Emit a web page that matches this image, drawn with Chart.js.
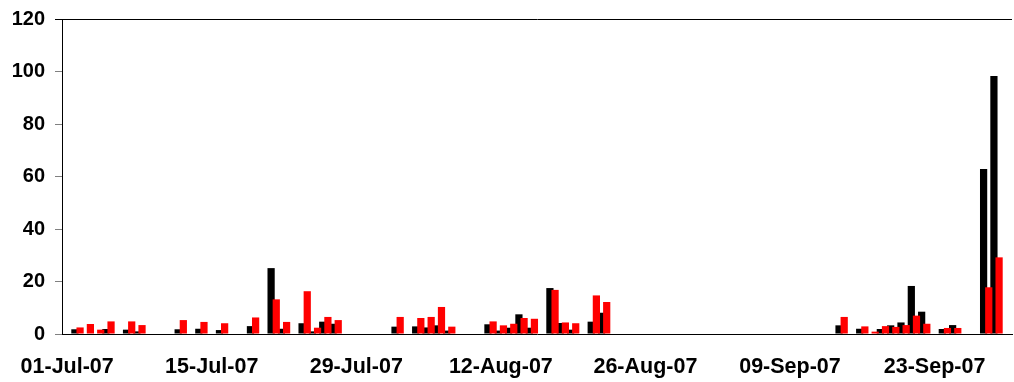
<!DOCTYPE html>
<html>
<head>
<meta charset="utf-8">
<script src="https://cdn.jsdelivr.net/npm/chart.js@4/dist/chart.umd.min.js"></script>
<style>
  html, body { margin: 0; padding: 0; background: #fff; }
  #wrap { width: 1014px; height: 382px; }
</style>
</head>
<body>
<div id="wrap"><canvas id="dailyChart"></canvas></div>
<script>
// one category per day, 01-Jul-07 .. 30-Sep-07
const START = Date.UTC(2007, 6, 1);
const DAY_COUNT = 92;
const MONTHS = ['Jan', 'Feb', 'Mar', 'Apr', 'May', 'Jun', 'Jul', 'Aug', 'Sep', 'Oct', 'Nov', 'Dec'];
const LABEL_EVERY = 14;

const days = [];
for (let i = 0; i < DAY_COUNT; i++) {
  const d = new Date(START + i * 86400000);
  const dd = String(d.getUTCDate()).padStart(2, '0');
  const yy = String(d.getUTCFullYear()).slice(2);
  days.push(`${dd}-${MONTHS[d.getUTCMonth()]}-${yy}`);
}

// rows of two weeks each
const blackSeries = [
  0, 1.8, 0, 0, 1.9, 0, 1.65, 1.0, 0, 0, 0, 1.8, 0, 2.0,
  0, 1.5, 0, 0, 3.0, 0, 25.1, 2.0, 0, 4.1, 1.0, 4.7, 3.9, 0,
  0, 0, 0, 0, 2.8, 0, 2.9, 2.5, 3.3, 1.3, 0, 0, 0, 3.7,
  1.3, 2.4, 7.5, 2.4, 0, 17.5, 4.2, 1.65, 0, 4.7, 8.1, 0, 0, 0,
  0, 0, 0, 0, 0, 0, 0, 0, 0, 0, 0, 0, 0, 0,
  0, 0, 0, 0, 0, 3.3, 0, 2.0, 0, 1.9, 3.3, 4.4, 18.3, 8.5,
  0, 1.9, 3.4, 0, 0, 62.9, 98.3, 0
];

const redSeries = [
  0, 2.5, 3.8, 1.65, 4.8, 0, 4.8, 3.4, 0, 0, 0, 5.3, 0, 4.6,
  0, 4.1, 0, 0, 6.3, 0, 13.2, 4.6, 0, 16.3, 2.4, 6.5, 5.3, 0,
  0, 0, 0, 0, 6.5, 0, 6.1, 6.5, 10.3, 2.8, 0, 0, 0, 4.8,
  3.3, 3.9, 6.1, 5.8, 0, 16.8, 4.4, 4.1, 0, 14.7, 12.2, 0, 0, 0,
  0, 0, 0, 0, 0, 0, 0, 0, 0, 0, 0, 0, 0, 0,
  0, 0, 0, 0, 0, 6.5, 0, 2.9, 0.9, 3.0, 2.7, 3.4, 7.0, 3.9,
  0, 2.3, 2.3, 0, 0, 17.8, 29.2, 0
];

const yTicks = [0, 20, 40, 60, 80, 100, 120];

const FONT = { family: '"Liberation Sans", Arial, sans-serif', weight: 'bold', size: 20 };

// the bars overlap a little; paint datasets first-to-last so red sits over black
const redOnTop = {
  id: 'redOnTop',
  beforeDatasetsDraw(chart) {
    chart.getSortedVisibleDatasetMetas().forEach(meta => meta.controller.draw());
    return false;
  }
};

const ctx = document.getElementById('dailyChart').getContext('2d');
new Chart(ctx, {
  type: 'bar',
  data: {
    labels: days,
    datasets: [
      { data: blackSeries, backgroundColor: '#000000' },
      { data: redSeries, backgroundColor: '#FF0000' }
    ]
  },
  options: {
    responsive: true,
    maintainAspectRatio: false,
    animation: false,
    categoryPercentage: 1,
    barPercentage: 1.4,
    layout: { padding: { top: 19, right: 2, left: 0, bottom: 0 } },
    plugins: {
      legend: { display: false },
      tooltip: { enabled: false }
    },
    scales: {
      x: {
        offset: true,
        border: { color: '#000000', width: 1 },
        grid: {
          offset: true,
          drawOnChartArea: false,
          tickLength: 6,
          tickColor: c => (c.index % LABEL_EVERY === 0 ? '#808080' : 'rgba(0,0,0,0)')
        },
        ticks: {
          autoSkip: false,
          maxRotation: 0,
          padding: 14,
          color: '#000000',
          font: { ...FONT, size: 21.5 },
          callback: (v, i) => (i % LABEL_EVERY === 0 ? days[i] : null)
        },
        afterFit: s => { s.height = 48; }
      },
      y: {
        min: 0,
        max: 120,
        border: { color: '#000000', width: 1 },
        grid: {
          color: c => (c.tick && c.tick.value === 120 ? '#000000' : 'rgba(0,0,0,0)'),
          tickColor: c => (c.tick && c.tick.value === 120 ? '#000000' : '#808080'),
          tickLength: 7
        },
        afterBuildTicks: s => { s.ticks = yTicks.map(v => ({ value: v })); },
        ticks: {
          padding: 10,
          color: '#000000',
          font: FONT
        },
        afterFit: s => {
          s.width = 62;
          s.paddingTop = 0;
          s.paddingBottom = 0;
        }
      }
    }
  },
  plugins: [redOnTop]
});
</script>
</body>
</html>
